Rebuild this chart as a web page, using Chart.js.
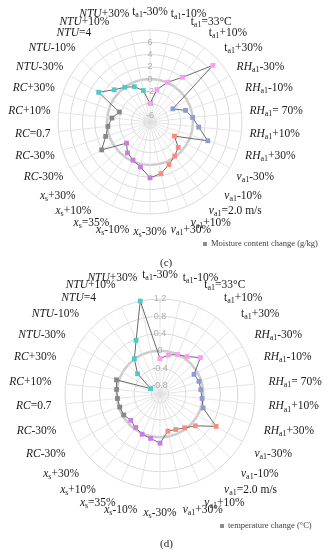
<!DOCTYPE html>
<html>
<head>
<meta charset="utf-8">
<script src="https://cdn.jsdelivr.net/npm/chart.js@4.4.0/dist/chart.umd.min.js"></script>
<style>
  body { margin: 0; background: #fff; width: 327px; height: 550px; position: relative; overflow: hidden; font-family: "Liberation Serif", serif; }
  .panel { position: absolute; left: 0; width: 327px; height: 260px; }
  .legend { position: absolute; font-size: 8.5px; color: #404040; white-space: nowrap; }
  .legend i { display: inline-block; width: 4px; height: 4px; background: #8c8c8c; margin-right: 4px; vertical-align: middle; }
  .caption { position: absolute; font-size: 11px; color: #222; }
</style>
</head>
<body>
<div class="panel" style="top:0"><canvas id="chartC" width="327" height="260"></canvas></div>
<div class="legend" style="left:203px; top:238px"><i></i>Moisture content change (g/kg)</div>
<div class="caption" style="left:160px; top:256px">(c)</div>

<div class="panel" style="top:270px"><canvas id="chartD" width="327" height="260"></canvas></div>
<div class="legend" style="left:220px; top:520px"><i></i>temperature change (°C)</div>
<div class="caption" style="left:160px; top:537px">(d)</div>

<script>
// Подписи осей: *курсив*, _{индекс}
const categories = [
  "t_{a1}-30%", "t_{a1}-10%", "t_{a1}=33°C", "t_{a1}+10%", "t_{a1}+30%",
  "*RH*_{a1}-30%", "*RH*_{a1}-10%", "*RH*_{a1}= 70%", "*RH*_{a1}+10%", "*RH*_{a1}+30%",
  "*v*_{a1}-30%", "*v*_{a1}-10%", "*v*_{a1}=2.0 m/s", "*v*_{a1}+10%", "*v*_{a1}+30%",
  "*x*_{s}-30%", "*x*_{s}-10%", "*x*_{s}=35%", "*x*_{s}+10%", "*x*_{s}+30%",
  "*RC*-30%", "*RC*-30%", "*RC*=0.7", "*RC*+10%", "*RC*+30%",
  "*NTU*-30%", "*NTU*-10%", "*NTU*=4", "*NTU*+10%", "*NTU*+30%",
];

// Цвет маркеров по группам параметров (5 точек на группу)
const groupColors = ["#fb9cf5", "#8f9bd4", "#fd8a7d", "#c97de3", "#888888", "#52c9c6"];

// (c) изменение влагосодержания, г/кг
const moistureChange = [
  -4.0, -1.6, 0.1, 2.0, 6.8,
  -2.7, -0.9, 0.0, 1.0, 2.9,
  -2.4, -0.8, -0.15, 0.6, 1.6,
  2.1, 0.5, -0.2, -0.76, -1.85,
  2.1, 0.6, -0.1, -0.76, -1.74,
  2.67, 0.86, 0.0, -0.7, -1.74,
];

// (d) изменение температуры, °C
const temperatureChange = [
  -0.18, -0.08, 0.0, 0.07, 0.26,
  -0.09, -0.05, -0.05, -0.02, 0.05,
  0.5, 0.1, -0.03, -0.1, -0.12,
  0.14, 0.05, 0.02, -0.04, -0.09,
  -0.03, -0.02, -0.01, 0.01, 0.06,
  -0.75, -0.3, 0.01, 0.36, 1.2,
];

const pointColors = categories.map((_, i) => groupColors[Math.floor(i / 5)]);

function parseLabel(text) {
  const parts = [];
  const re = /\*([^*]+)\*|_\{([^}]+)\}|([^*_]+)/g;
  let m;
  while ((m = re.exec(text))) {
    if (m[1]) parts.push({ t: m[1], it: true });
    else if (m[2]) parts.push({ t: m[2], sub: true });
    else parts.push({ t: m[3] });
  }
  return parts;
}

function fontFor(p) {
  if (p.sub) return '8px "Liberation Serif"';
  return (p.it ? "italic " : "") + '11.5px "Liberation Serif"';
}

// Подписи по кругу рисуем сами, чтобы был курсив и нижние индексы
const richLabels = {
  id: "richLabels",
  afterDraw(chart, args, opts) {
    const scale = chart.scales.r;
    const ctx = chart.ctx;
    const gap = opts.gap || 8;
    ctx.save();
    ctx.fillStyle = "#1a1a1a";
    ctx.textBaseline = "middle";
    categories.forEach((label, i) => {
      const parts = parseLabel(label);
      let w = 0;
      parts.forEach((p) => {
        ctx.font = fontFor(p);
        p.w = ctx.measureText(p.t).width;
        w += p.w;
      });
      const angle = scale.getIndexAngle(i);
      const pos = scale.getPointPosition(i, scale.drawingArea + gap);
      const s = Math.sin(angle);
      const c = Math.cos(angle);
      let x = pos.x;
      if (Math.abs(s) < 0.05) x -= w / 2;
      else if (s < 0) x -= w;
      const y = pos.y - c * 10;
      parts.forEach((p) => {
        ctx.font = fontFor(p);
        ctx.fillText(p.t, x, p.sub ? y + 3 : y);
        x += p.w;
      });
    });
    ctx.restore();
  },
};

const isZero = (ctx) => ctx.tick && Math.abs(ctx.tick.value) < 1e-9;

function makeChart(id, values, min, max, step, tickMin, tickMax, padding, gap) {
  return new Chart(document.getElementById(id), {
    type: "radar",
    data: {
      labels: categories,
      datasets: [
        {
          data: values,
          borderColor: "#6a6a6a",
          borderWidth: 1,
          fill: false,
          pointStyle: "rect",
          pointRadius: 3.4,
          pointBackgroundColor: pointColors,
          pointBorderColor: pointColors,
          pointBorderWidth: 0,
        },
      ],
    },
    options: {
      responsive: false,
      animation: false,
      layout: { padding: padding },
      plugins: {
        legend: { display: false },
        tooltip: { enabled: false },
        richLabels: { gap: gap },
      },
      scales: {
        r: {
          min: min,
          max: max,
          ticks: {
            stepSize: step,
            showLabelBackdrop: false,
            color: "#adadad",
            font: { size: 9, family: "Liberation Sans" },
            callback: (v) => {
              const r = Math.round(v * 10) / 10;
              return r >= tickMin - 1e-9 && r <= tickMax + 1e-9 ? String(r) : "";
            },
          },
          grid: {
            circular: true,
            color: (ctx) => (isZero(ctx) ? "#cccccc" : "#dadada"),
            lineWidth: (ctx) => (isZero(ctx) ? 2.5 : 1),
          },
          angleLines: { color: "#dedede", lineWidth: 0.8 },
          pointLabels: { display: false },
        },
      },
    },
    plugins: [richLabels],
  });
}

makeChart("chartC", moistureChange, -7, 8, 2, -6, 6, { left: 51, right: 78, top: 23, bottom: 39 }, 8);
makeChart("chartD", temperatureChange, -1, 1.2, 0.4, -0.8, 1.2, { left: 58, right: 65, top: 22, bottom: 34 }, 14);
</script>
</body>
</html>
